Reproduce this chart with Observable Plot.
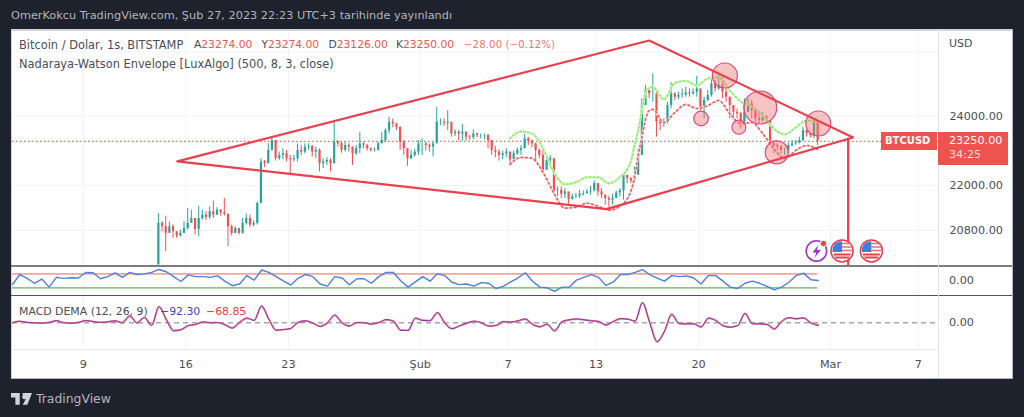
<!DOCTYPE html>
<html><head><meta charset="utf-8">
<script src="https://cdn.jsdelivr.net/npm/d3@7"></script>
<script src="https://cdn.jsdelivr.net/npm/@observablehq/plot@0.6"></script>
<style>
html,body{margin:0;padding:0;background:#1e222d;width:1024px;height:417px;overflow:hidden;font-family:"DejaVu Sans",sans-serif}
#panel{position:absolute;left:11px;top:29px;width:1002px;height:349px;background:#fff}
.pane{position:absolute;left:11px}
.pane svg{display:block;background:transparent}
.t{position:absolute;white-space:pre;font-size:11.4px;color:#4a4e59;line-height:14px}
.r{color:#ef5350}
.sep{position:absolute}
</style></head><body>
<div id="panel"></div>
<div id="root"></div>
<script>
// ---------- price candles, 6-hour steps starting 14 Jan 03:00 ----------
const candleStart = new Date(Date.UTC(2023,0,14,3));
const firstOpen = 19925;
const closes = [20985,20897,20725,20897,20767,20656,20725,20854,20985,21115,20828,21115,21203,21143,21292,21203,21336,21265,21230,20897,20725,20854,20725,20985,21115,20941,20985,21513,22658,22611,22990,23277,22752,22847,22895,22752,22724,22752,22990,22942,23085,23104,22942,22990,22611,
22658,22705,22611,23228,23180,22990,23133,23085,22895,23037,23180,23133,23037,22990,22990,23180,23277,23569,23814,23765,23667,23228,23037,22752,22847,22942,23180,23180,23133,23085,23180,23814,23814,23785,23814,23470,23520,23470,23520,23373,23355,23470,23423,23423,23423,23277,22990,22942,
22847,22895,22942,22724,22895,22990,23037,23325,23257,23180,22990,22847,22425,22705,22752,21855,21874,21765,21828,21622,21693,21711,21765,21783,21828,21855,22056,21828,21738,21649,21603,21649,21800,21855,22286,22194,22129,22286,22847,
24317,24777,24674,24674,23814,23765,23814,24317,24674,24570,24622,24644,24705,24674,24725,24829,24265,24470,24622,24986,24829,24933,24725,24570,24317,24114,24065,23765,24114,24368,24165,23915,23865,23964,23865,23180,23133,23085,22990,22990,23133,23180,23199,23277,23569,23470,23423,23814,23250];
const highs = [21247,21028,21177,21028,20941,20767,20811,21028,21380,21336,21115,21442,21336,21292,21424,21584,21406,21354,21649,21203,20941,20897,20854,21115,21230,21203,21054,21558,22752,22705,23180,23355,23228,22942,23037,22990,22847,22847,23180,23133,23180,23180,23133,23085,23037,
22752,22781,22752,23814,23277,23228,23228,23180,23085,23133,23520,23228,23162,23066,23066,23228,23520,23618,23964,23915,23785,23667,23277,23037,22990,23037,23277,23325,23228,23180,23228,24265,23915,23915,24165,23618,23589,23569,23747,23520,23423,23589,23490,23470,23470,23452,23277,23104,
23009,22970,23037,22942,22970,23066,23133,23452,23373,23297,23199,23037,22990,22800,22847,22705,21965,21965,21920,21800,21765,21783,21874,21855,21893,21983,22129,22056,21920,21738,21711,21765,21855,21920,22332,22286,22222,22518,23037,
24522,24933,24777,25300,24725,23865,23915,24418,25017,24705,24725,24829,24880,24829,24829,25224,24570,24570,24777,25142,25089,25246,25193,24829,24522,24317,24216,24114,24522,24522,24470,24165,24114,24114,24015,23865,23228,23180,23133,23057,23205,23277,23277,23373,23667,23569,23490,23895,23450];
const lows = [19925,20767,20258,20811,20597,20597,20639,20725,20811,21028,20682,20639,21072,21054,21090,21115,21203,21177,21177,20384,20656,20725,20682,20708,20941,20880,20897,20941,21513,22500,22611,22970,22686,22705,22724,22658,22332,22658,22658,22847,22895,22990,22800,22752,22379,
22471,22564,22379,22611,23085,22913,22942,22942,22564,22847,22895,23037,22970,22942,22942,22970,23180,23228,23470,23649,23569,22990,22847,22536,22724,22800,22847,22847,22970,22942,22800,23180,23717,23687,23569,23373,23394,23257,23257,23257,23277,23297,23355,23325,23297,23037,22847,22781,
22685,22724,22781,22564,22819,22847,22847,23037,23133,23066,22658,22752,22379,22425,22564,21738,21711,21649,21649,21496,21603,21649,21649,21711,21765,21738,21828,21711,21649,21469,21408,21469,21649,21693,21603,22056,22056,22056,22286,
23133,24317,24522,24418,23373,23569,23667,23765,24216,24470,24500,24540,24570,24570,24622,24570,24165,23915,24440,24570,24725,24777,24522,24418,23915,23865,23915,23618,23717,24114,23915,23814,23765,23814,23765,23133,22895,22990,22895,22847,22895,23085,23133,23180,23248,23373,23340,23325,23126];
const priceLegend = {open:23274, high:23274, low:23126, close:23250, change:-28, pct:-0.12};

// ---------- Nadaraya-Watson envelope, positions are candle indexes ----------
const envelopeIndex = [96,99,102,105,108,111,114,117,120,123,126,129,130,131,132,133,134,135,138,141,144,147,150,153,156,159,162,165,168,171,174,177,180];
const envelopeUpper = [23335,23540,23480,23047,22369,22037,22093,22231,22231,22065,22231,22677,23133,23569,24165,24700,24855,24886,24500,25011,25075,24933,25152,25184,24777,24440,24287,24015,23628,23452,23658,23865,23835];
const envelopeLower = [22592,22790,22762,22369,21792,21389,21416,21523,21442,21336,21442,21847,22231,22847,23365,23895,24165,24195,23806,24105,24347,24225,24317,24470,24075,23776,23806,23480,23047,22762,22990,23133,23019];

// ---------- drawn trend lines and circles ----------
const diamondTimes = [[0,15,10],[1,16,15],[2,2,13],[1,13,17],[0,15,10]];
const diamondPrices = [22677,26376,23365,21362,22677];
const dropTimes = [[2,2,5],[2,2,5]];
const dropPrices = [23330,19925];
const circleTimes = [[1,21,19],[1,24,5],[1,28,4],[1,25,8],[1,20,4],[1,22,18]];
const circlePrices = [25246,24256,23776,22933,23925,23667];
const circleRadii = [12.5,16.5,12.5,11.5,7.3,7];
const priceTicks = [24000,22000,20800];
const extraGridPrice = 26000;

// ---------- oscillators, 12-hour steps starting 4 Jan 04:00 ----------
const oscStart = new Date(Date.UTC(2023,0,4,4));
const rsiValues = [39.5,68,57,43,55,32,60,57,59,58,74,73,56,62,73,60,74,68,70,74,82.5,76,62,48,67,62,62,60,64,49,36,41,65,52,81,74,62,49,38,58,68,62,41,35,62,58,39,56,56,43,62,74,74,50,32,47,62,49,70,65,46,39,41,35,45,43,28,34,47,58,73,49,32,30,20,32,32,52,60,68,60,37,46,68,68,74,82,68,58,49,65,62,64,58,41,65,65,49,32,28,43,49,43,34,24,32,46,65,72,53,51];
const macdValues = [0,55,11,0,-11,11,77,0,-11,11,77,44,11,33,66,0,242,-11,187,-88,550,99,-275,-231,-88,-55,33,0,11,-66,-176,22,165,77,572,110,-253,-220,-187,22,66,-11,-121,0,264,-11,-110,11,0,-44,11,110,55,-253,-253,165,77,77,352,-11,-198,-99,-11,55,0,-110,-88,44,22,66,132,-55,-132,-44,-275,44,99,132,99,66,44,-77,44,143,121,55,682,-11,-638,-275,297,-33,-33,-33,-143,165,77,-99,-143,-88,319,-33,-33,-55,-209,55,176,132,165,-11,-92.3];
const signalValues = [5,45,15,0,-5,15,65,5,-10,15,70,40,15,30,60,10,215,5,170,-75,520,110,-250,-225,-95,-50,25,5,10,-60,-165,15,150,85,545,125,-235,-225,-180,15,60,-5,-115,5,245,0,-105,5,5,-40,5,100,60,-235,-250,150,85,70,330,5,-190,-105,-15,50,5,-100,-95,35,25,60,125,-45,-130,-50,-260,30,95,125,105,70,50,-70,35,135,125,60,650,20,-610,-290,270,-15,-35,-30,-135,150,85,-90,-140,-95,300,-20,-35,-50,-195,40,165,135,160,-5,-68.85];
const rsiBands = [70,30];

// ---------- time axis ----------
const timeTicks = [[0,9],[0,16],[0,23],[1,1],[1,7],[1,13],[1,20],[2,1],[2,7]];
const timeLabels = ["9","16","23","Şub","7","13","20","Mar","7"];

// ---------- tables for the library ----------
const at = ([m,d,h=0]) => new Date(Date.UTC(2023,m,d,h));
const hoursAfter = (s,n) => new Date(+s + n*3600e3);
const candles = closes.map((c,i)=>({t:hoursAfter(candleStart,6*i),o:i?closes[i-1]:firstOpen,c,h:highs[i],l:lows[i]}));
const up = candles.filter(d=>d.c>=d.o), down = candles.filter(d=>d.c<d.o);
const envelope = envelopeIndex.map((ix,i)=>({t:hoursAfter(candleStart,6*ix),u:envelopeUpper[i],l:envelopeLower[i]}));
const diamond = diamondTimes.map((t,i)=>({t:at(t),p:diamondPrices[i]}));
const drop = dropTimes.map((t,i)=>({t:at(t),p:dropPrices[i]}));
const circles = circleTimes.map((t,i)=>({t:at(t),p:circlePrices[i],r:circleRadii[i]}));
const osc = rsiValues.map((r,i)=>({t:hoursAfter(oscStart,12*i),r,m:macdValues[i],s:signalValues[i]}));
const ticks = timeTicks.map(at);

const flag = "data:image/svg+xml,"+encodeURIComponent('<svg xmlns="http://www.w3.org/2000/svg" viewBox="0 0 24 24"><circle cx="12" cy="12" r="11" fill="#fff" stroke="#e8404f" stroke-width="1.6"/><path d="M3 6.5H21M2.2 10H21.8M2 13.5H22" stroke="#fff"/><path d="M3.5 15.5H20.5M5 18.5H19" stroke="#e8404f" stroke-width="2"/><path d="M4 6A10 10 0 0 1 12 2.4V13H2.4A10 10 0 0 1 4 6Z" fill="#3f7fdc"/><path d="M12 4.5H20.5M12 8H21.5M12 11.5H22" stroke="#e8707a" stroke-width="1.6"/></svg>');
const bolt = "data:image/svg+xml,"+encodeURIComponent('<svg xmlns="http://www.w3.org/2000/svg" viewBox="0 0 24 24"><circle cx="12" cy="12" r="10.2" fill="#fff" stroke="#9c35c9" stroke-width="1.6"/><circle cx="19" cy="4.5" r="3.2" fill="#f04040" stroke="#fff"/><path d="M14 6L8 13.5H12L10 19L16.5 11H12.5Z" fill="#9c35c9"/></svg>');
const icons = [{t:at([1,28,1]),p:20275,src:bolt},{t:at([2,1,19]),p:20275,src:flag},{t:at([2,3,19]),p:20275,src:flag}];

const xDomain = [at([0,4,4]), at([2,8,9])];
const W = 1002, mL = 1, mR = 75, gridC = "#f0f3fa", axisC = "#4a4e59", fontF = "'DejaVu Sans',sans-serif";
const base = {width:W,marginLeft:mL,marginRight:mR,marginTop:0,marginBottom:0,style:{background:"transparent",fontFamily:fontF,fontSize:"11.2px",color:axisC}};
const xScale = {type:"utc",domain:xDomain,axis:null};
const grid = () => Plot.gridX(ticks,{stroke:gridC,strokeOpacity:1});
const root = document.getElementById("root");
function add(node,top){const d=document.createElement("div");d.className="pane";d.style.top=top+"px";d.appendChild(node);root.appendChild(d);}

// ---------- price pane ----------
const red="#e8404f";
add(Plot.plot({...base,height:236,marginTop:1,x:xScale,r:{type:"identity"},
 y:{type:"log",domain:[19910,26707],axis:null},
 marks:[
  grid(),
  Plot.ruleY([...priceTicks,extraGridPrice],{stroke:gridC}),
  Plot.axisY(priceTicks,{anchor:"right",label:null,tickSize:0,tickPadding:11,tickFormat:d3.format(".2f"),fill:axisC,stroke:"none"}),
  Plot.ruleY([priceLegend.close],{stroke:"#ef6a5a",strokeDasharray:"1.5,2.5",strokeWidth:1.2}),
  Plot.ruleX(up,{x:"t",y1:"l",y2:"h",stroke:"#26a69a"}),
  Plot.ruleX(down,{x:"t",y1:"l",y2:"h",stroke:"#ef5350"}),
  Plot.ruleX(up,{x:"t",y1:"o",y2:"c",stroke:"#26a69a",strokeWidth:2.2}),
  Plot.ruleX(down,{x:"t",y1:"o",y2:"c",stroke:"#ef5350",strokeWidth:2.2}),
  Plot.line(envelope,{x:"t",y:"u",stroke:"#e2fada",strokeWidth:2.4,curve:"monotone-x"}),
  Plot.line(envelope,{x:"t",y:"u",stroke:"#92ee6e",strokeWidth:1.8,strokeDasharray:"1.5,2.5",curve:"monotone-x"}),
  Plot.line(envelope,{x:"t",y:"l",stroke:"#fde2e2",strokeWidth:2.4,curve:"monotone-x"}),
  Plot.line(envelope,{x:"t",y:"l",stroke:"#ea5a5a",strokeWidth:1.6,strokeDasharray:"1.5,3",curve:"monotone-x"}),
  Plot.dot(circles,{x:"t",y:"p",r:"r",fill:"#ef6f6f",fillOpacity:.42,stroke:"#de4a7c",strokeWidth:1.2}),
  Plot.line(diamond,{x:"t",y:"p",stroke:red,strokeWidth:2.2}),
  Plot.line(drop,{x:"t",y:"p",stroke:red,strokeWidth:2.2}),
  Plot.image(icons,{x:"t",y:"p",src:"src",width:24,height:24})
 ]}),29);

// ---------- RSI pane ----------
add(Plot.plot({...base,height:29,x:xScale,y:{domain:[8,91],axis:null},
 marks:[grid(),
  Plot.ruleY([{v:rsiBands[0]}],{y:"v",x1:()=>osc[0].t,x2:()=>candles[candles.length-1].t,stroke:"#f4a4a0",strokeWidth:1.6}),
  Plot.ruleY([{v:rsiBands[1]}],{y:"v",x1:()=>osc[0].t,x2:()=>candles[candles.length-1].t,stroke:"#5cb85c",strokeWidth:1.3}),
  Plot.line(osc,{x:"t",y:"r",stroke:"#4f7fe0",strokeWidth:1.4})
 ]}),266);

// ---------- MACD pane ----------
add(Plot.plot({...base,height:53,x:xScale,y:{domain:[-880,869],axis:null},
 marks:[grid(),
  Plot.ruleY([0],{stroke:"#787b86",strokeDasharray:"5,4"}),
  Plot.line(osc,{x:"t",y:"s",stroke:"#f07898",strokeWidth:1.8,curve:"monotone-x"}),
  Plot.line(osc,{x:"t",y:"m",stroke:"#8a3aa0",strokeWidth:1,curve:"monotone-x"})
 ]}),296);

// ---------- time axis ----------
add(Plot.plot({...base,height:29,x:xScale,y:{domain:[0,1],axis:null},
 marks:[Plot.axisX(ticks,{anchor:"bottom",frameAnchor:"top",label:null,tickSize:0,tickPadding:11,tickFormat:(d,i)=>timeLabels[ticks.findIndex(t=>+t===+d)],fill:axisC,stroke:"none"})]}),349);

// ---------- chrome ----------
function sep(l,t,w,h,c){const d=document.createElement("div");d.className="sep";d.style.cssText=`left:${l}px;top:${t}px;width:${w}px;height:${h}px;background:${c}`;document.body.appendChild(d);}
function text(l,t,html,extra=""){const d=document.createElement("div");d.className="t";d.style.cssText=`left:${l}px;top:${t}px;${extra}`;d.innerHTML=html;document.body.appendChild(d);return d;}
sep(11,29,1002,1.5,"#d1d4dc");
sep(11,29,1,349,"#d1d4dc");
sep(11,265,1002,1.5,"#7a7d86");
sep(11,295,1002,1,"#50535e");
sep(11,349,927,1,"#e6e8ef");
sep(11,377.5,1002,1,"#b5b8c2");
sep(1012,29,1,349,"#b5b8c2");
sep(938,29,1,349,"#e0e3eb");

text(11,8.5,"OmerKokcu TradingView.com, Şub 27, 2023 22:23 UTC+3 tarihinde yayınlandı","color:#b2b5be;font-size:11.3px");
const f2=d3.format(".2f");
const L=priceLegend;
const oh="font-size:10.7px";
text(19,38,"Bitcoin / Dolar, 1s, BITSTAMP");
text(194,38,`A<span class="r">${f2(L.open)}</span>`,oh);
text(261.5,38,`Y<span class="r">${f2(L.high)}</span>`,oh);
text(328.5,38,`D<span class="r">${f2(L.low)}</span>`,oh);
text(396,38,`K<span class="r">${f2(L.close)}</span>`,oh);
text(464,38,`<span class="r">${f2(L.change).replace("-","−")} (${f2(L.pct).replace("-","−")}%)</span>`,"font-size:10px;letter-spacing:.02em;opacity:.8");
text(19,56.5,"Nadaraya-Watson Envelope [LuxAlgo] (500, 8, 3, close)");
text(949,37,"USD","font-size:11px");
text(19,305,"MACD DEMA (12, 26, 9)","font-size:10.9px");
text(160,305,"−92.30","color:#3f3fd0;font-size:10.9px");
text(206,305,"−68.85","color:#ef3b3b;font-size:10.9px");
text(949,273.5,"0.00","font-size:11.2px");
text(949,315.5,"0.00","font-size:11.2px");

sep(881,132,56,18,"#ef5350");
sep(938,132,70,33,"#ef5350");
text(885,134,"BTCUSD","color:#fff;font-weight:bold;font-size:10px");
text(949,134,f2(L.close),"color:#fff;font-size:11.2px");
text(949,148,"34:25","color:#ffd8d6;font-size:11.2px");

const logo=document.createElement("div");logo.style.cssText="position:absolute;left:11px;top:391px;width:22px;height:14px";
logo.innerHTML='<svg width="21" height="13" viewBox="0 0 36 22"><path d="M0 0H15V20H7.5V7.5H0Z M20 0H36L28 20H20L27 7.5A4 4 0 1 1 20 4Z" fill="#d1d4dc"/></svg>';
document.body.appendChild(logo);
text(36,391,"TradingView","color:#b2b5be;font-size:12.4px;line-height:15px");
</script>
</body></html>
